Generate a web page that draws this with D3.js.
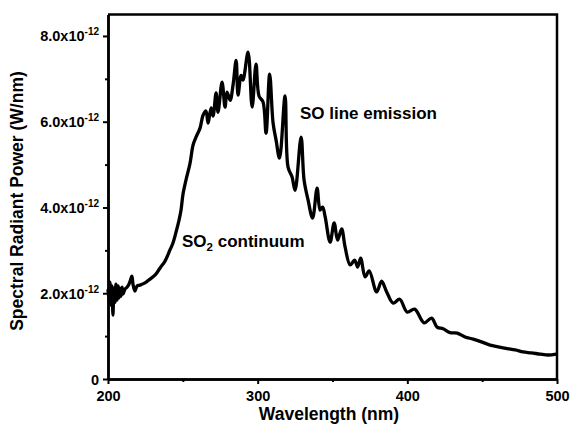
<!DOCTYPE html>
<html>
<head>
<meta charset="utf-8">
<script src="https://cdn.jsdelivr.net/npm/d3@7"></script>
<style>
  html, body { margin: 0; padding: 0; background: #fff; }
  svg text { font-family: "Liberation Sans", Arial, Helvetica, sans-serif; font-weight: bold; fill: #000; }
</style>
</head>
<body>
<svg id="chart" width="570" height="427"></svg>
<script>
// ---- data ----
const wavelength = [
  200.0, 200.7, 201.3, 202.0, 202.7, 203.3, 204.0, 204.7, 205.3, 206.0,
  206.7, 207.4, 208.0, 208.7, 209.4, 210.0, 211.4, 212.7, 214.0, 215.4,
  216.0, 216.7, 218.0, 219.4, 221.4, 224.7, 228.1, 231.4, 234.8, 238.1,
  241.4, 243.4, 245.5, 247.5, 248.8, 250.1, 252.1, 254.8, 256.8, 258.8,
  261.5, 263.5, 265.5, 266.8, 268.9, 270.2, 272.2, 273.5, 276.2, 278.2,
  279.5, 281.6, 283.6, 285.6, 286.9, 288.9, 290.2, 293.6, 296.3, 298.9,
  300.9, 303.6, 305.6, 308.0, 310.3, 312.3, 314.6, 318.3, 320.3, 323.0,
  325.0, 329.0, 331.0, 333.7, 336.7, 339.7, 341.7, 343.4, 345.1, 348.4,
  351.1, 353.4, 356.1, 358.4, 361.8, 364.8, 366.8, 368.8, 371.8, 374.5,
  379.5, 382.8, 386.2, 390.5, 394.9, 399.9, 404.9, 411.2, 416.2, 419.9,
  423.9, 428.6, 433.3, 438.6, 444.0, 450.0, 455.3, 460.7, 466.7, 472.1,
  477.4, 482.8, 488.8, 494.1, 499.5
];
const power = [ // x 1e-12 W/nm
  2.07, 1.84, 2.26, 1.72, 2.17, 1.49, 2.12, 1.79, 2.21, 1.84,
  2.17, 1.89, 2.12, 1.93, 2.14, 1.98, 2.10, 2.14, 2.21, 2.35,
  2.40, 2.21, 2.05, 2.17, 2.19, 2.24, 2.33, 2.42, 2.59, 2.75,
  3.01, 3.17, 3.43, 3.71, 3.94, 4.31, 4.64, 5.03, 5.45, 5.64,
  5.85, 6.15, 6.25, 5.97, 6.32, 6.13, 6.67, 6.22, 6.92, 6.34,
  6.69, 6.50, 6.87, 7.43, 6.62, 7.08, 6.97, 7.62, 6.34, 7.34,
  6.60, 6.46, 5.73, 7.11, 5.97, 5.57, 5.15, 6.60, 4.94, 4.71,
  4.40, 5.64, 4.64, 4.17, 3.75, 4.45, 3.94, 4.01, 3.78, 3.19,
  3.64, 3.24, 3.50, 3.08, 2.66, 2.77, 2.61, 2.82, 2.38, 2.52,
  2.03, 2.28, 2.03, 1.77, 1.86, 1.56, 1.63, 1.31, 1.42, 1.21,
  1.17, 1.08, 1.07, 0.98, 0.93, 0.86, 0.79, 0.75, 0.71, 0.68,
  0.63, 0.61, 0.58, 0.56, 0.58
];
const xMajorTicks = [200, 300, 400, 500];
const xMinorTicks = [250, 350, 450];
const yMajorTicks = [0, 2, 4, 6, 8];
const yMinorTicks = [1, 3, 5, 7];
const yTickMantissa = ["0", "2.0x10", "4.0x10", "6.0x10", "8.0x10"];
const yTickExponent = ["", "-12", "-12", "-12", "-12"];
const xTitle = "Wavelength (nm)";
const yTitle = "Spectral Radiant Power (W/nm)";

// ---- layout ----
const svg = d3.select("#chart");
const L = 108, R = 557, T = 14.5, B = 379;
const x = d3.scaleLinear().domain([200, 500]).range([L, R]);
const y = d3.scaleLinear().domain([0, 8.5]).range([B, T]);

// data line
const pts = wavelength.map((w, i) => [w, power[i]]);
svg.append("path")
  .datum(pts)
  .attr("fill", "none")
  .attr("stroke", "#000")
  .attr("stroke-width", 3.3)
  .attr("stroke-linejoin", "round")
  .attr("stroke-linecap", "round")
  .attr("d", d3.line().curve(d3.curveCatmullRom.alpha(0.5)).x(d => x(d[0])).y(d => y(d[1])));

// frame (top and right)
svg.append("path")
  .attr("d", `M${L},${T}H${R}V${B}`)
  .attr("fill", "none").attr("stroke", "#000").attr("stroke-width", 2.5);

function styleAxis(g) {
  g.select(".domain").attr("stroke-width", 2.5);
  g.selectAll(".tick line").attr("stroke-width", 2);
  g.selectAll(".tick text").remove();
}

// x axis
svg.append("g").attr("transform", `translate(0,${B})`)
  .call(d3.axisBottom(x).tickValues(xMinorTicks).tickSize(3).tickSizeOuter(0))
  .call(styleAxis);
const gx = svg.append("g").attr("transform", `translate(0,${B})`)
  .call(d3.axisBottom(x).tickValues(xMajorTicks).tickSize(5).tickSizeOuter(0))
  .call(styleAxis);
gx.selectAll(".tick").append("text")
  .attr("y", 22).attr("text-anchor", "middle")
  .style("font-size", "14.5px")
  .text(d => d);

// y axis
svg.append("g").attr("transform", `translate(${L},0)`)
  .call(d3.axisLeft(y).tickValues(yMinorTicks).tickSize(3).tickSizeOuter(0))
  .call(styleAxis);
const gy = svg.append("g").attr("transform", `translate(${L},0)`)
  .call(d3.axisLeft(y).tickValues(yMajorTicks).tickSize(5).tickSizeOuter(0))
  .call(styleAxis);
gy.selectAll(".tick").each(function(d, i) {
  const t = d3.select(this).append("text")
    .attr("x", -9).attr("y", 5).attr("text-anchor", "end")
    .style("font-size", "14.5px");
  t.append("tspan").text(yTickMantissa[i]);
  if (yTickExponent[i]) {
    t.append("tspan").attr("dy", -6).style("font-size", "10px").text(yTickExponent[i]);
  }
});

// axis titles
svg.append("text")
  .attr("x", 329).attr("y", 420).attr("text-anchor", "middle")
  .style("font-size", "17.5px").text(xTitle);
svg.append("text")
  .attr("transform", "translate(23,201) rotate(-90)")
  .attr("text-anchor", "middle")
  .style("font-size", "17.5px").text(yTitle);

// annotations
svg.append("text")
  .attr("x", 300).attr("y", 119)
  .style("font-size", "17px").text("SO line emission");
const a2 = svg.append("text")
  .attr("x", 182).attr("y", 247)
  .style("font-size", "17px");
a2.append("tspan").text("SO");
a2.append("tspan").attr("dy", 4).style("font-size", "11.5px").text("2");
a2.append("tspan").attr("dy", -4).text(" continuum");
</script>
</body>
</html>
